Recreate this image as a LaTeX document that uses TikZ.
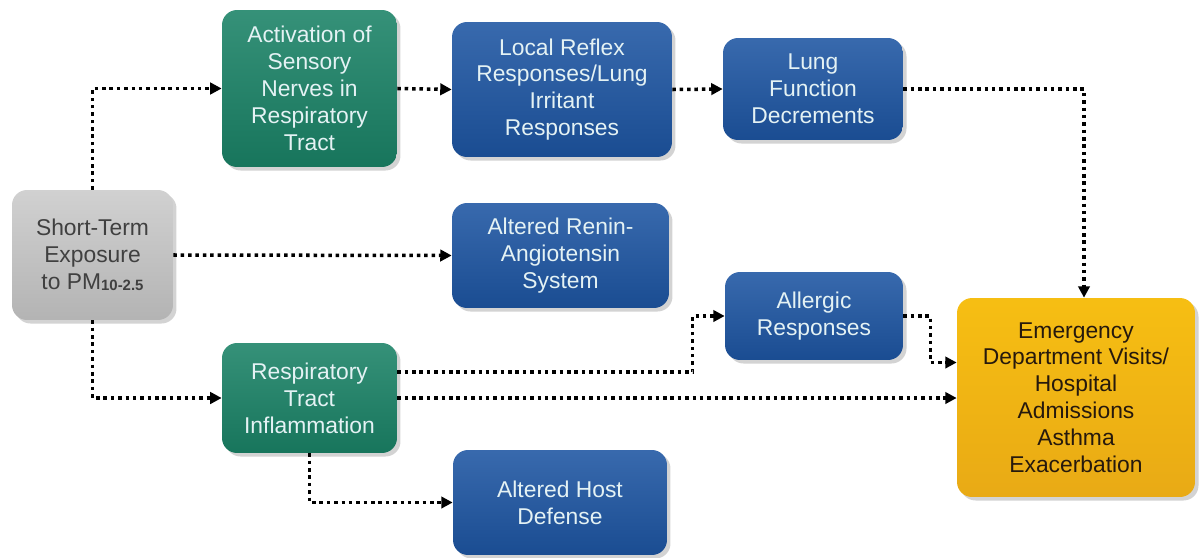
\documentclass[tikz,border=0pt]{standalone}
\usepackage{fontspec}
\setmainfont{Liberation Sans}
\usetikzlibrary{arrows.meta,calc,shadows}

\definecolor{boxgreen}{HTML}{1A8266}
\definecolor{boxblue}{HTML}{1D55A2}
\definecolor{boxgray}{HTML}{BDBDBD}
\definecolor{boxyellow}{HTML}{F5B316}
\definecolor{lighttext}{HTML}{E4F2F4}

\begin{document}
\begin{tikzpicture}[x=0.02cm,y=-0.02cm,
    box/.style={rounded corners=0.3cm, inner sep=0pt, align=center,
        font=\fontsize{13}{15.3}\selectfont,
        drop shadow={shadow xshift=2pt, shadow yshift=-2pt, opacity=0.35}},
    graybox/.style={box, top color=boxgray!70, bottom color=boxgray!95!black, text=black!75},
    greenbox/.style={box, top color=boxgreen!88!white, bottom color=boxgreen!90!black, text=lighttext},
    bluebox/.style={box, top color=boxblue!88!white, bottom color=boxblue!90!black, text=lighttext},
    yellowbox/.style={box, top color=boxyellow!85!yellow, bottom color=boxyellow!95!black, text=black!80!brown},
    flow/.style={line width=2pt, dash pattern=on 2pt off 2.2pt,
        -{Triangle[length=6.5pt,width=6.5pt]}}]

    \useasboundingbox (0,0) rectangle (1201,558);

    % Boxes
    \node[graybox, minimum width=3.22cm, minimum height=2.6cm] (expo) at (92.5,255)
        {Short-Term\\Exposure\\to PM{\fontsize{8.5}{8}\selectfont\bfseries\raisebox{-1pt}{10-2.5}}};
    \node[greenbox, minimum width=3.5cm, minimum height=3.14cm] (sens) at (309.5,88.5)
        {Activation of\\Sensory\\Nerves in\\Respiratory\\Tract};
    \node[bluebox, minimum width=4.4cm, minimum height=2.7cm] (reflex) at (562,89.5)
        {Local Reflex\\Responses/Lung\\Irritant\\Responses};
    \node[bluebox, minimum width=3.6cm, minimum height=2.04cm] (lung) at (813,89)
        {Lung\\Function\\Decrements};
    \node[bluebox, minimum width=4.34cm, minimum height=2.1cm] (renin) at (560.5,255.5)
        {Altered Renin-\\Angiotensin\\System};
    \node[bluebox, minimum width=3.56cm, minimum height=1.76cm] (allergic) at (814,316)
        {Allergic\\Responses};
    \node[greenbox, minimum width=3.5cm, minimum height=2.2cm] (inflam) at (309.5,398)
        {Respiratory\\Tract\\Inflammation};
    \node[bluebox, minimum width=4.28cm, minimum height=2.1cm] (host) at (560,502.5)
        {Altered Host\\Defense};
    \node[yellowbox, minimum width=4.76cm, minimum height=3.98cm] (ed) at (1076,397.5)
        {Emergency\\Department Visits/\\Hospital\\Admissions\\Asthma\\Exacerbation};

    % Connectors
    \draw[flow] (expo.north) |- (sens.west);
    \draw[flow] (expo.east) -- (renin.west);
    \draw[flow] (expo.south) |- (inflam.west);
    \draw[flow] (sens.east) -- (reflex.west);
    \draw[flow] (reflex.east) -- (lung.west);
    \draw[flow] (lung.east) -| ($(ed.north)+(8,0)$);
    \draw[flow] ($(inflam.east)+(0,-26)$) -| ($(allergic.west)+(-32,0)$) -- (allergic.west);
    \draw[flow] (inflam.east) -- (inflam.east -| ed.west);
    \draw[flow] (allergic.east) -- ++(27,0) |- ($(ed.west)+(0,-35)$);
    \draw[flow] (inflam.south) |- (host.west);
\end{tikzpicture}
\end{document}
